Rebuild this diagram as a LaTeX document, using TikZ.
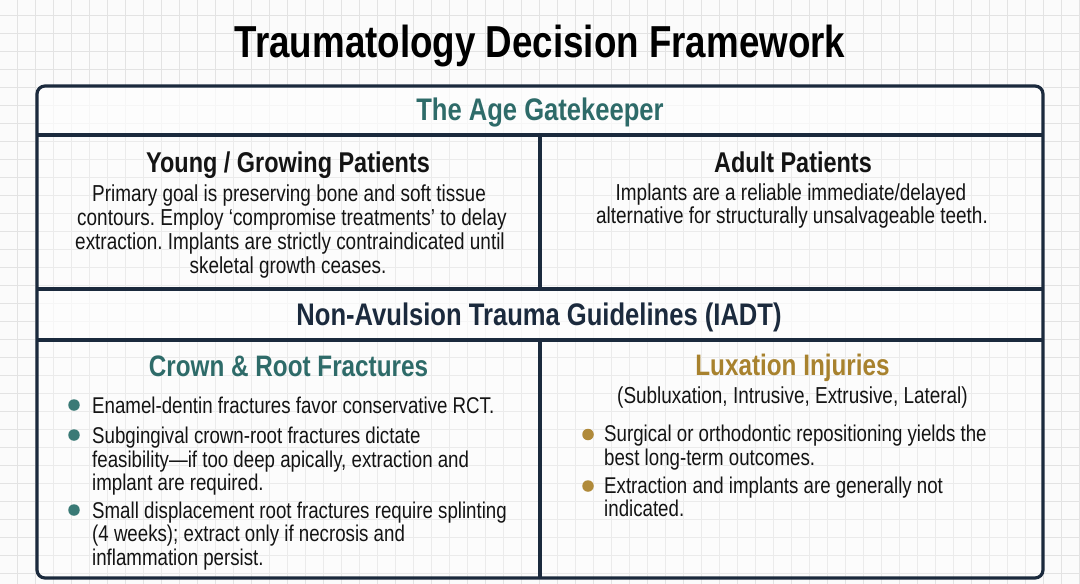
\documentclass[tikz,border=0pt]{standalone}
\usepackage{fontspec}
\setmainfont[FakeStretch=0.82]{Liberation Sans}
\frenchspacing
\definecolor{navy}{HTML}{1B2A3D}
\definecolor{teal}{HTML}{2E6B69}
\definecolor{gold}{HTML}{A8822E}
\definecolor{tealdot}{HTML}{3A7A76}
\definecolor{golddot}{HTML}{B08A3A}
\definecolor{ink}{HTML}{141414}
\definecolor{gridc}{HTML}{E3E3E3}
\definecolor{paper}{HTML}{FBFBFB}
\tikzset{
  frameline/.style={draw=navy, line width=3.2pt},
  gridline/.style={draw=gridc, line width=0.9pt},
  titletext/.style={font=\fontsize{44.8}{48}\selectfont\bfseries, text=black, inner sep=0, anchor=base},
  bandtext/.style={font=\fontsize{31.2}{34}\selectfont\bfseries, inner sep=0, anchor=base},
  headtext/.style={font=\fontsize{28.6}{32}\selectfont\bfseries, text=ink, inner sep=0, anchor=base},
  subhead/.style={font=\fontsize{29.6}{32}\selectfont\bfseries, inner sep=0, anchor=base},
  bodyc/.style={font=\fontsize{23.1}{24}\selectfont, text=ink, inner sep=0, anchor=base},
  bodyl/.style={font=\fontsize{22.8}{24}\selectfont, text=ink, inner sep=0, anchor=base west},
  dot/.style={circle, inner sep=0, minimum size=11.5pt},
}
\begin{document}
\begin{tikzpicture}[x=1pt,y=-1pt]
\useasboundingbox (0,0) rectangle (1080,584);
\fill[paper] (0,0) rectangle (1080,584);
% grid
\foreach \i in {0,...,59} {\draw[gridline] ({17.5+18*\i},0) -- ({17.5+18*\i},584);}
\foreach \j in {0,...,32} {\draw[gridline] (0,{15+18*\j}) -- (1080,{15+18*\j});}
% bands
\fill[white, opacity=0.7] (37,86) rectangle (1043,135);
\fill[white, opacity=0.7] (37,289) rectangle (1043,340);
\fill[white, opacity=0.3] (37,135) rectangle (1043,289);
\fill[white, opacity=0.3] (37,340) rectangle (1043,578);
% frame
\draw[frameline, rounded corners=8pt] (37,86) rectangle (1043,578);
\draw[frameline] (37,135) -- (1043,135);
\draw[frameline] (37,289) -- (1043,289);
\draw[frameline] (37,340) -- (1043,340);
\draw[frameline] (540,135) -- (540,289);
\draw[frameline] (540,340) -- (540,578);
% title
\node[titletext] (title) at (540,57) {Traumatology Decision Framework};
% age gatekeeper
\node[bandtext, text=teal] (age) at (540,120) {The Age Gatekeeper};
\node[headtext] (young) at (288,172) {Young / Growing Patients};
\node[bodyc] (y1) at (289,201) {Primary goal is preserving bone and soft tissue};
\node[bodyc] (y2) at (292,225.5) {contours. Employ ‘compromise treatments’ to delay};
\node[bodyc] (y3) at (290,249.5) {extraction. Implants are strictly contraindicated until};
\node[bodyc] (y4) at (288,273) {skeletal growth ceases.};
\node[headtext] (adult) at (793,172) {Adult Patients};
\node[bodyc] (a1) at (791,200) {Implants are a reliable immediate/delayed};
\node[bodyc] (a2) at (792,223.5) {alternative for structurally unsalvageable teeth.};
% non-avulsion
\node[bandtext, text=navy] (iadt) at (539,325) {Non-Avulsion Trauma Guidelines (IADT)};
\node[subhead, text=teal] (crown) at (288.5,376) {Crown \& Root Fractures};
\node[dot, fill=tealdot] (cb1) at (74,405) {};
\node[bodyl] (c1) at (92,413) {Enamel-dentin fractures favor conservative RCT.};
\node[dot, fill=tealdot] (cb2) at (74,435) {};
\node[bodyl] (c2) at (92,443.5) {Subgingival crown-root fractures dictate};
\node[bodyl] (c3) at (92,467) {feasibility—if too deep apically, extraction and};
\node[bodyl] (c4) at (92,490) {implant are required.};
\node[dot, fill=tealdot] (cb3) at (74,510) {};
\node[bodyl] (c5) at (92,518) {Small displacement root fractures require splinting};
\node[bodyl] (c6) at (92,541.5) {(4 weeks); extract only if necrosis and};
\node[bodyl] (c7) at (92,565) {inflammation persist.};
\node[subhead, text=gold] (lux) at (792.5,375) {Luxation Injuries};
\node[bodyc] (luxsub) at (792.5,403) {(Subluxation, Intrusive, Extrusive, Lateral)};
\node[dot, fill=golddot] (lb1) at (588,434.5) {};
\node[bodyl] (l1) at (604,441.5) {Surgical or orthodontic repositioning yields the};
\node[bodyl] (l2) at (604,465) {best long-term outcomes.};
\node[dot, fill=golddot] (lb2) at (588,486) {};
\node[bodyl] (l3) at (604,493) {Extraction and implants are generally not};
\node[bodyl] (l4) at (604,516.5) {indicated.};
\end{tikzpicture}
\end{document}
